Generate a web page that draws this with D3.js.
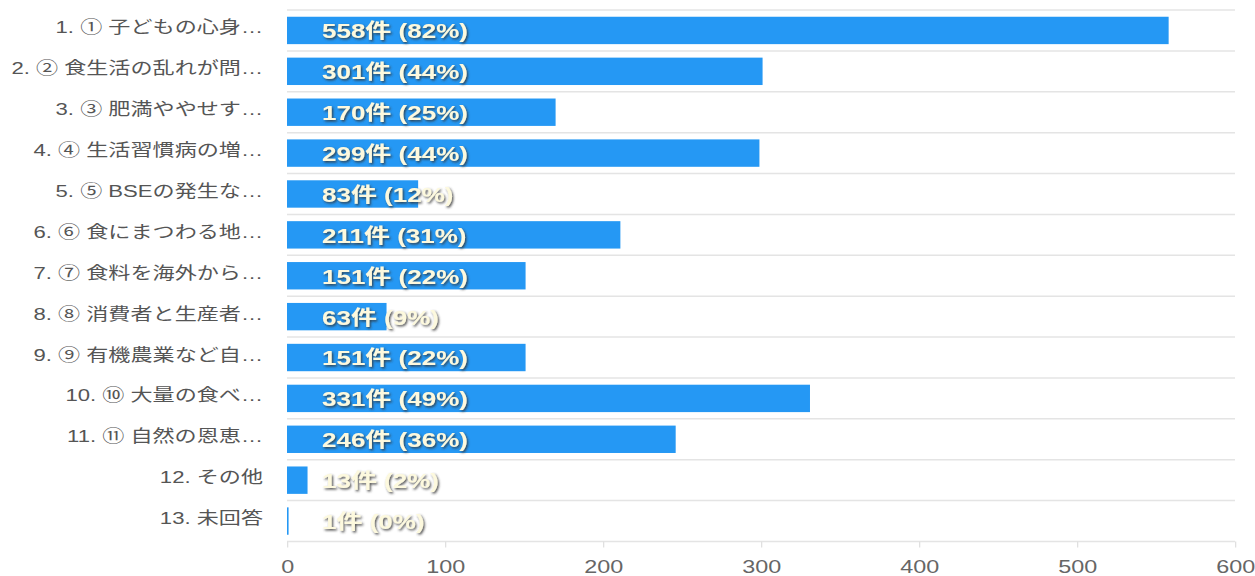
<!DOCTYPE html>
<html>
<head>
<meta charset="utf-8">
<script src="https://cdn.jsdelivr.net/npm/d3@7/dist/d3.min.js"></script>
<style>
    html, body { margin: 0; padding: 0; background: #fff; }
    svg { display: block; }
    text { font-family: "Liberation Sans", Arial, "Noto Sans CJK JP", sans-serif; }
</style>
</head>
<body>
<svg id="chart"></svg>
<script>
// ----- data
var categories = [
    "1. ① 子どもの心身…",
    "2. ② 食生活の乱れが問…",
    "3. ③ 肥満ややせす…",
    "4. ④ 生活習慣病の増…",
    "5. ⑤ BSEの発生な…",
    "6. ⑥ 食にまつわる地…",
    "7. ⑦ 食料を海外から…",
    "8. ⑧ 消費者と生産者…",
    "9. ⑨ 有機農業など自…",
    "10. ⑩ 大量の食べ…",
    "11. ⑪ 自然の恩恵…",
    "12. その他",
    "13. 未回答"
];
var counts = [558, 301, 170, 299, 83, 211, 151, 63, 151, 331, 246, 13, 1];
var percents = [82, 44, 25, 44, 12, 31, 22, 9, 22, 49, 36, 2, 0];
var xTicks = [0, 100, 200, 300, 400, 500, 600];

// the original picture is stretched sideways, so draw narrower and stretch the svg
var SX = 1.3;
var fullWidth = 1255, fullHeight = 576;
var width = fullWidth / SX;

var svg = d3.select("#chart")
    .attr("width", fullWidth)
    .attr("height", fullHeight)
    .attr("viewBox", "0 0 " + width + " " + fullHeight)
    .attr("preserveAspectRatio", "none");

// text shadow
var filter = svg.append("defs").append("filter")
    .attr("id", "shadow")
    .attr("x", "-10%").attr("y", "-30%")
    .attr("width", "130%").attr("height", "170%");
filter.append("feDropShadow")
    .attr("dx", 1).attr("dy", 1.5)
    .attr("stdDeviation", 0.9)
    .attr("flood-color", "#333")
    .attr("flood-opacity", 0.85);

var x = d3.scaleLinear().domain([0, 600]).range([287 / SX, 1235 / SX]);
var y = d3.scaleBand()
    .domain(categories)
    .range([10, 541.5])
    .paddingInner(0.33)
    .paddingOuter(0.165);

var step = y.step();
var top0 = y.range()[0];

// ----- row separators
svg.append("g")
    .selectAll("line")
    .data(d3.range(categories.length + 1))
    .enter().append("line")
    .attr("x1", x(0))
    .attr("x2", x(600))
    .attr("y1", function (i) { return top0 + i * step; })
    .attr("y2", function (i) { return top0 + i * step; })
    .attr("stroke", "#e4e4e4")
    .attr("stroke-width", 1.5);

// ----- x axis
var axis = svg.append("g")
    .attr("transform", "translate(0," + y.range()[1] + ")")
    .call(d3.axisBottom(x).tickValues(xTicks).tickSize(6).tickPadding(13));
axis.select(".domain").remove();
axis.selectAll(".tick line").attr("stroke", "#e0e0e0");
axis.selectAll(".tick text")
    .attr("fill", "#666")
    .style("font-size", "18px")
    .style("font-family", "'Liberation Sans', Arial, sans-serif");

// ----- bars
svg.append("g")
    .selectAll("rect")
    .data(counts)
    .enter().append("rect")
    .attr("x", x(0))
    .attr("y", function (d, i) { return y(categories[i]); })
    .attr("width", function (d) { return x(d) - x(0); })
    .attr("height", y.bandwidth())
    .attr("fill", "#2598f4");

// ----- category labels
svg.append("g")
    .selectAll("text")
    .data(categories)
    .enter().append("text")
    .attr("x", 263 / SX)
    .attr("y", function (d) { return y(d) + y.bandwidth() / 2 - 3; })
    .attr("text-anchor", "end")
    .attr("dominant-baseline", "central")
    .attr("fill", "#555")
    .style("font-size", "17px")
    .text(function (d) { return d; });

// ----- value labels
svg.append("g")
    .selectAll("text")
    .data(counts)
    .enter().append("text")
    .attr("x", 322 / SX)
    .attr("y", function (d, i) { return y(categories[i]) + y.bandwidth() / 2 + 1; })
    .attr("dominant-baseline", "central")
    .attr("fill", "#fdf9de")
    .attr("filter", "url(#shadow)")
    .style("font-size", "20px")
    .style("font-weight", "bold")
    .text(function (d, i) { return d + "件 (" + percents[i] + "%)"; });
</script>
</body>
</html>
